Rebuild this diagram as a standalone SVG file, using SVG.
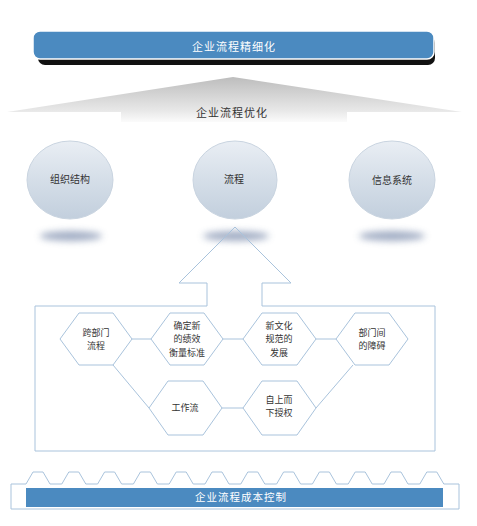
<svg xmlns="http://www.w3.org/2000/svg" width="477" height="526" viewBox="0 0 477 526">
<defs>
<linearGradient id="roof" x1="0" y1="77" x2="0" y2="122" gradientUnits="userSpaceOnUse">
<stop offset="0" stop-color="#bdbdbd"/><stop offset="0.75" stop-color="#e8e8e8"/><stop offset="1" stop-color="#fbfbfb"/>
</linearGradient>
<linearGradient id="ball" x1="0" y1="0" x2="0" y2="1">
<stop offset="0" stop-color="#e9eef4"/><stop offset="0.5" stop-color="#d5dee8"/><stop offset="1" stop-color="#c2cfdd"/>
</linearGradient>
<filter id="blur" x="-50%" y="-100%" width="200%" height="300%"><feGaussianBlur stdDeviation="3.5"/></filter>
<style>
.t{font-family:"Noto Sans CJK SC","Noto Sans",sans-serif;text-anchor:middle}
.w{fill:#ffffff;font-size:11px;letter-spacing:1px}
.d{fill:#333333;font-size:10px}
.h{fill:#333333;font-size:9px}
.hex{fill:#ffffff;stroke:#a9c3dc;stroke-width:1}
.ln{stroke:#a9c3dc;stroke-width:1;fill:none}
.ball{fill:url(#ball);stroke:#c9d4e0;stroke-width:1}
.sh{fill:#8292b0;opacity:0.75;filter:url(#blur)}
</style>
</defs>

<g id="top-bar">
<rect x="38" y="36" width="397" height="29" rx="7" fill="#111111"/>
<rect x="33" y="31" width="401" height="28" rx="7" fill="#4b8ac0" stroke="#ffffff" stroke-width="1.5"/>
<text class="t w" x="234" y="51">企业流程精细化</text>
</g>

<g id="roof">
<path d="M7,112 L233,77 L462,112 L347,112 L347,122 L121,122 L121,112 Z" fill="url(#roof)"/>
<text class="t d" x="232" y="117" style="font-size:11px;letter-spacing:1px">企业流程优化</text>
</g>

<g id="shadows">
<ellipse class="sh" cx="71" cy="236" rx="31" ry="5"/>
<ellipse class="sh" cx="236" cy="236" rx="33" ry="5"/>
<ellipse class="sh" cx="392" cy="236" rx="33" ry="5"/>
</g>

<g id="ball-org">
<ellipse class="ball" cx="70" cy="180" rx="43" ry="39"/>
<text class="t d" x="70" y="183">组织结构</text>
</g>
<g id="ball-flow">
<ellipse class="ball" cx="235" cy="180" rx="42" ry="39"/>
<text class="t d" x="234" y="183">流程</text>
</g>
<g id="ball-info">
<ellipse class="ball" cx="392" cy="180" rx="43" ry="39"/>
<text class="t d" x="392" y="184">信息系统</text>
</g>

<g id="arrow-frame">
<path class="ln" d="M235,227 L291,283 L262,283 L262,306 L435,306 L435,451 L35,451 L35,306 L207,306 L207,283 L179,283 Z"/>
</g>

<g id="connectors">
<line class="ln" x1="132" y1="339" x2="151" y2="339"/>
<line class="ln" x1="223" y1="339" x2="243" y2="339"/>
<line class="ln" x1="316" y1="339" x2="336" y2="339"/>
<line class="ln" x1="222" y1="408" x2="243" y2="408"/>
<line class="ln" x1="113" y1="365" x2="149" y2="408"/>
<line class="ln" x1="353" y1="365" x2="316" y2="408"/>
</g>

<g id="hex-cross">
<polygon class="hex" points="60,339 79,313 113,313 132,339 113,365 79,365"/>
<text class="t h" x="96" y="335.5">跨部门<tspan x="96" dy="13.3">流程</tspan></text>
</g>
<g id="hex-measure">
<polygon class="hex" points="151,339 170,313 204,313 223,339 204,365 170,365"/>
<text class="t h" x="187" y="329">确定新<tspan x="187" dy="13.3">的绩效</tspan><tspan x="187" dy="13.3">衡量标准</tspan></text>
</g>
<g id="hex-culture">
<polygon class="hex" points="243,339 262,313 297,313 316,339 297,365 262,365"/>
<text class="t h" x="279" y="329">新文化<tspan x="279" dy="13.3">规范的</tspan><tspan x="279" dy="13.3">发展</tspan></text>
</g>
<g id="hex-barrier">
<polygon class="hex" points="336,339 355,313 389,313 408,339 389,365 355,365"/>
<text class="t h" x="372" y="335.5">部门间<tspan x="372" dy="13.3">的障碍</tspan></text>
</g>
<g id="hex-workflow">
<polygon class="hex" points="149,408 168,381 203,381 222,408 203,435 168,435"/>
<text class="t h" x="185" y="411">工作流</text>
</g>
<g id="hex-empower">
<polygon class="hex" points="243,408 262,381 297,381 316,408 297,435 262,435"/>
<text class="t h" x="279" y="403">自上而<tspan x="279" dy="13.3">下授权</tspan></text>
</g>

<g id="base">
<path class="ln" stroke="#b5cbe0" d="M11,484 L26,484 l7,-12 l10,0 l7,12 l11.8,0 l7,-12 l10,0 l7,12 l11.8,0 l7,-12 l10,0 l7,12 l11.8,0 l7,-12 l10,0 l7,12 l11.8,0 l7,-12 l10,0 l7,12 l11.8,0 l7,-12 l10,0 l7,12 l11.8,0 l7,-12 l10,0 l7,12 l11.8,0 l7,-12 l10,0 l7,12 l11.8,0 l7,-12 l10,0 l7,12 l11.8,0 l7,-12 l10,0 l7,12 l11.8,0 l7,-12 l10,0 l7,12 l11.8,0 l7,-12 l10,0 l7,12 L459,484 L459,509 L11,509 Z"/>
<rect x="26" y="488" width="417" height="19" fill="#4b8ac0"/>
<text class="t w" x="241" y="501" style="font-size:10.5px">企业流程成本控制</text>
</g>
</svg>
